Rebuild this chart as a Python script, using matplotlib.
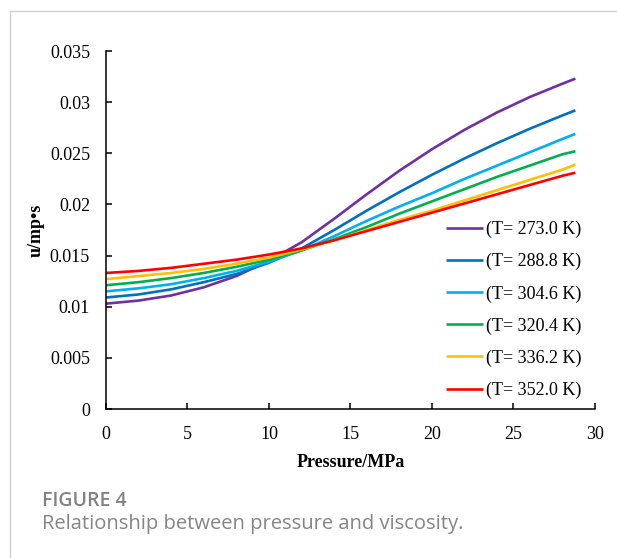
import numpy as np
import matplotlib
matplotlib.use('Agg')
import matplotlib.pyplot as plt
from matplotlib.lines import Line2D

# pressure (MPa)
pressure = [0, 2, 4, 6, 8, 10, 12, 14, 16, 18, 20, 22, 24, 26, 28, 28.8]

# viscosity for each temperature
mu_273 = [0.0103, 0.0106, 0.0111, 0.0119, 0.0130, 0.0145, 0.0163, 0.0186,
          0.0210, 0.0233, 0.0254, 0.0273, 0.0290, 0.0305, 0.0318, 0.0323]
mu_288 = [0.0109, 0.0112, 0.0117, 0.0124, 0.0132, 0.0143, 0.0157, 0.0175,
          0.0194, 0.0212, 0.0229, 0.0245, 0.0260, 0.0274, 0.0287, 0.0292]
mu_304 = [0.0115, 0.0118, 0.0122, 0.0128, 0.0135, 0.0144, 0.0155, 0.0169,
          0.0184, 0.0198, 0.0211, 0.0225, 0.0238, 0.0251, 0.0264, 0.0269]
mu_320 = [0.0121, 0.0124, 0.0128, 0.0133, 0.0139, 0.0146, 0.0155, 0.0166,
          0.0178, 0.0191, 0.0203, 0.0215, 0.0227, 0.0238, 0.0249, 0.0252]
mu_336 = [0.0127, 0.0130, 0.0133, 0.0137, 0.0142, 0.0148, 0.0156, 0.0165,
          0.0175, 0.0185, 0.0194, 0.0204, 0.0214, 0.0224, 0.0234, 0.0239]
mu_352 = [0.0133, 0.0135, 0.0138, 0.0142, 0.0146, 0.0151, 0.0157, 0.0165,
          0.0174, 0.0183, 0.0192, 0.0201, 0.0210, 0.0219, 0.0228, 0.0231]

labels = ['(T= 273.0 K)', '(T= 288.8 K)', '(T= 304.6 K)',
          '(T= 320.4 K)', '(T= 336.2 K)', '(T= 352.0 K)']
series = [mu_273, mu_288, mu_304, mu_320, mu_336, mu_352]
colors = ['#7030A0', '#0070C0', '#00B0F0', '#00B050', '#FFC000', '#FF0000']

plt.rcParams['font.family'] = ['Liberation Serif', 'DejaVu Serif']

fig = plt.figure(figsize=(6.17, 5.58), dpi=100)
ax = fig.add_axes([0.1718, 0.267, 0.7925, 0.6416])

for s, c, l in zip(series, colors, labels):
    ax.plot(pressure, s, color=c, lw=1.9, label=l,
            solid_capstyle='butt', solid_joinstyle='round')

ax.set_xlim(0, 30)
ax.set_ylim(0, 0.035)
ax.set_xticks(np.arange(0, 31, 5))
ax.set_yticks([0, 0.005, 0.01, 0.015, 0.02, 0.025, 0.03, 0.035])
ax.set_yticklabels(['0', '0.005', '0.01', '0.015', '0.02', '0.025', '0.03', '0.035'])
ax.tick_params(direction='in', length=4, width=1.1, labelsize=13, colors='black')
ax.tick_params(axis='x', pad=12)
ax.tick_params(axis='y', pad=11.5)
for side in ['top', 'right']:
    ax.spines[side].set_visible(False)
for side in ['left', 'bottom']:
    ax.spines[side].set_linewidth(1.1)

ax.set_xlabel('Pressure/MPa', fontsize=13, fontweight='bold', labelpad=8)
ax.set_ylabel('u/mp•s', fontsize=13, fontweight='bold', labelpad=4)

leg = ax.legend(loc='lower right', bbox_to_anchor=(0.987, 0.008), frameon=False,
                fontsize=13, handlelength=2.05, handletextpad=0.15,
                labelspacing=0.82, borderaxespad=0)

# page frame and caption
fig.add_artist(Line2D([10 / 617, 1], [1 - 11 / 558, 1 - 11 / 558], color='#d0d0d0', lw=1))
fig.add_artist(Line2D([10 / 617, 10 / 617], [0, 1 - 11 / 558], color='#d0d0d0', lw=1))
fig.text(42 / 617, 1 - 501 / 558, 'FIGURE 4', family='Open Sans', fontweight='semibold',
         fontsize=14, color='#828282', va='center', ha='left')
fig.text(42 / 617, 1 - 524 / 558, 'Relationship between pressure and viscosity.',
         family='Open Sans', fontsize=14.5, color='#858585', va='center', ha='left')

fig.savefig('out.png', dpi=100)
